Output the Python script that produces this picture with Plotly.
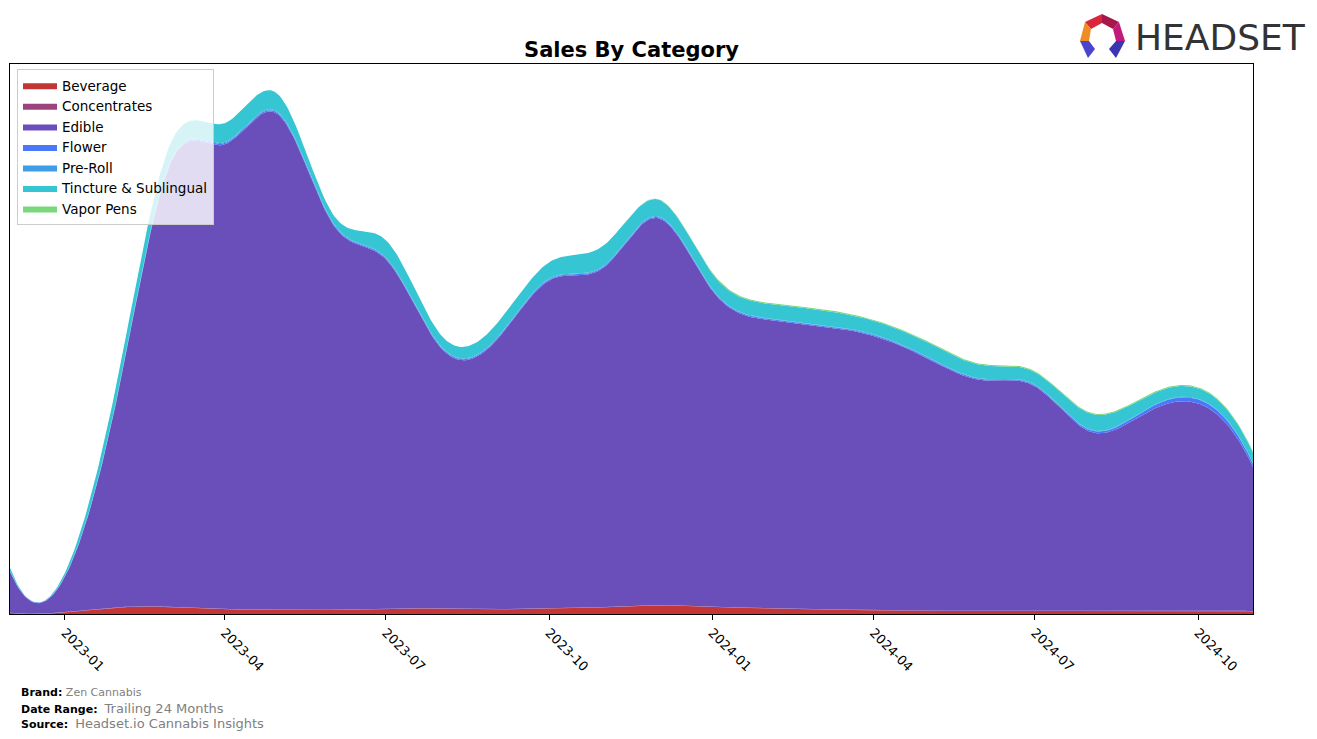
import numpy as np
import plotly.graph_objects as go

# ---------------- data ----------------
months = ["2022-12-01", "2023-01-01", "2023-02-01", "2023-03-01", "2023-04-01", "2023-05-01",
          "2023-06-01", "2023-07-01", "2023-08-01", "2023-09-01", "2023-10-01", "2023-11-01",
          "2023-12-01", "2024-01-01", "2024-02-01", "2024-03-01", "2024-04-01", "2024-05-01",
          "2024-06-01", "2024-07-01", "2024-08-01", "2024-09-01", "2024-10-01", "2024-11-01"]

beverage = [1, 1.5, 6.5, 7, 4.5, 4, 4, 5.5, 5, 4.5, 6, 6.5, 8.5, 7, 5.5, 4.5, 3.5, 3, 3, 3, 3, 3, 3.5, 2.5]
concentrates = [0.3] * 24
edible = [40.7, 35.2, 221.2, 437.7, 461.2, 491.7, 382.7, 346.2, 258.7, 266.2, 324.7, 337.2,
          384.2, 313.7, 286.2, 281.2, 272.2, 250.7, 228.7, 222.7, 177.7, 195.7, 205.2, 143.2]
flower = [0.5, 0.5, 1, 1.2, 1.2, 1.2, 1, 1, 1, 1, 1, 1, 1, 1, 1, 1, 1, 1, 1, 1, 1.5, 3, 4, 3]
preroll = [0.3, 0.3, 0.8, 1, 1, 1, 0.8, 0.8, 0.8, 0.8, 0.8, 0.8, 0.8, 0.6, 0.6, 0.6, 0.6, 0.6,
           0.6, 0.6, 0.6, 0.6, 0.6, 0.6]
tincture = [3.2, 3.2, 15.2, 17.8, 18.8, 17.8, 8.2, 17.2, 11.2, 14.2, 16.2, 20.2, 16.7, 15.4,
            14.4, 14.4, 13.4, 14.4, 13.4, 12.4, 15.9, 12.4, 10.4, 10.4]
vapor = [0, 0, 0, 0, 0, 0, 0, 0, 0, 0, 0, 0, 0.5, 1, 1, 1, 1, 1, 1, 1, 1, 1, 1, 1]

series_names = ["Beverage", "Concentrates", "Edible", "Flower", "Pre-Roll", "Tincture & Sublingual", "Vapor Pens"]
series_values = [beverage, concentrates, edible, flower, preroll, tincture, vapor]
series_colors = ["#c43535", "#9c437e", "#6a4fbb", "#4a78fb", "#3d9de6", "#36c5d3", "#7ad77c"]

tick_vals = ["2023-01-01", "2023-04-01", "2023-07-01", "2023-10-01",
             "2024-01-01", "2024-04-01", "2024-07-01", "2024-10-01"]

# ---------------- smoothing (not-a-knot cubic spline) ----------------
xd = np.array(months, dtype="datetime64[D]")
xn = (xd - xd[0]).astype(float)
grid_d = np.arange(xd[0], xd[-1] + np.timedelta64(1, "D"), dtype="datetime64[D]")
grid = (grid_d - xd[0]).astype(float)


def spline(x, y, xs):
    y = np.asarray(y, float)
    n = len(x)
    h = np.diff(x)
    A = np.zeros((n, n))
    b = np.zeros(n)
    A[0, 0], A[0, 1], A[0, 2] = h[1], -(h[0] + h[1]), h[0]
    A[-1, -3], A[-1, -2], A[-1, -1] = h[-1], -(h[-2] + h[-1]), h[-2]
    for i in range(1, n - 1):
        A[i, i - 1] = h[i - 1]
        A[i, i] = 2 * (h[i - 1] + h[i])
        A[i, i + 1] = h[i]
        b[i] = 6 * ((y[i + 1] - y[i]) / h[i] - (y[i] - y[i - 1]) / h[i - 1])
    M = np.linalg.solve(A, b)
    idx = np.clip(np.searchsorted(x, xs, side="right") - 1, 0, n - 2)
    x0, x1 = x[idx], x[idx + 1]
    hh = x1 - x0
    return (M[idx] * (x1 - xs) ** 3 / (6 * hh) + M[idx + 1] * (xs - x0) ** 3 / (6 * hh)
            + (y[idx] / hh - M[idx] * hh / 6) * (x1 - xs)
            + (y[idx + 1] / hh - M[idx + 1] * hh / 6) * (xs - x0))


smooth = [spline(xn, v, grid) for v in series_values]
total = np.sum(smooth, axis=0)
ymax = total.max() * 1.05

# ---------------- geometry helpers ----------------
W, H = 1317, 739
L, R, T, B = 10, 1253, 64, 614


def px(x):
    return (x - L) / (R - L)


def py(y):
    return (B - y) / (B - T)


fig = go.Figure()
for name, vals, col in zip(series_names, smooth, series_colors):
    fig.add_trace(go.Scatter(
        x=grid_d.astype(str), y=vals, name=name, mode="lines",
        line=dict(width=0, color=col), fillcolor=col, stackgroup="one",
        hoverinfo="skip"))

fig.update_layout(
    width=W, height=H,
    margin=dict(l=L, r=W - R, t=T, b=H - B),
    paper_bgcolor="white", plot_bgcolor="white",
    font=dict(family="DejaVu Sans", size=13, color="black"),
    title=dict(text="<b>Sales By Category</b>", x=0.5, xref="paper",
               y=1 - 50 / H, yref="container", xanchor="center", yanchor="middle",
               font=dict(size=21, family="DejaVu Sans", color="black")),
    showlegend=True,
    legend=dict(x=px(17), y=py(69), xanchor="left", yanchor="top",
                bgcolor="rgba(255,255,255,0.8)", bordercolor="#cccccc", borderwidth=1,
                font=dict(size=13.5, family="DejaVu Sans"), traceorder="normal",
                itemwidth=34),
    xaxis=dict(type="date", range=[months[0], months[-1]], tickvals=tick_vals,
               tickformat="%Y-%m", tickangle=45, ticks="outside", ticklen=5,
               tickcolor="black", showgrid=False, zeroline=False,
               showline=True, linecolor="black", linewidth=1, mirror=True,
               tickfont=dict(size=13, family="DejaVu Sans")),
    yaxis=dict(range=[0, ymax], showticklabels=False, ticks="", showgrid=False,
               zeroline=False, showline=True, linecolor="black", linewidth=1, mirror=True),
)

# ---------------- footer ----------------
footer = [
    (692, "<b>Brand:</b> <span style='color:#808080'>Zen Cannabis</span>", 11),
    (708, "<b>Date Range:</b>  <span style='color:#808080;font-size:13px'>Trailing 24 Months</span>", 11),
    (723, "<b>Source:</b>  <span style='color:#808080;font-size:13px'>Headset.io Cannabis Insights</span>", 11),
]
for yy, txt, sz in footer:
    fig.add_annotation(x=px(19), y=py(yy), xref="paper", yref="paper", text=txt,
                       showarrow=False, xanchor="left", yanchor="middle",
                       font=dict(size=sz, family="DejaVu Sans", color="black"))

# ---------------- logo ----------------
fig.add_annotation(x=px(1133), y=py(37), xref="paper", yref="paper", text="HEADSET",
                   showarrow=False, xanchor="left", yanchor="middle",
                   font=dict(size=36, family="DejaVu Sans", color="#333333"))

logo_parts = [
    ("#d9263c", [(1085, 22), (1102, 14), (1102, 23), (1091, 29)]),
    ("#a8174a", [(1102, 14), (1119, 22), (1113, 29), (1102, 23)]),
    ("#c21a7c", [(1119, 22), (1125, 41), (1116, 41), (1113, 29)]),
    ("#f08c26", [(1085, 22), (1080, 41), (1089, 41), (1091, 29)]),
    ("#4b44cc", [(1080, 41), (1089, 41), (1095, 49), (1088, 58)]),
    ("#3935b3", [(1125, 41), (1116, 41), (1109, 49), (1116, 58)]),
]
for col, pts in logo_parts:
    path = "M " + " L ".join(f"{px(a):.5f},{py(b):.5f}" for a, b in pts) + " Z"
    fig.add_shape(type="path", path=path, xref="paper", yref="paper",
                  fillcolor=col, line=dict(width=0))

fig.write_html("out.html")
